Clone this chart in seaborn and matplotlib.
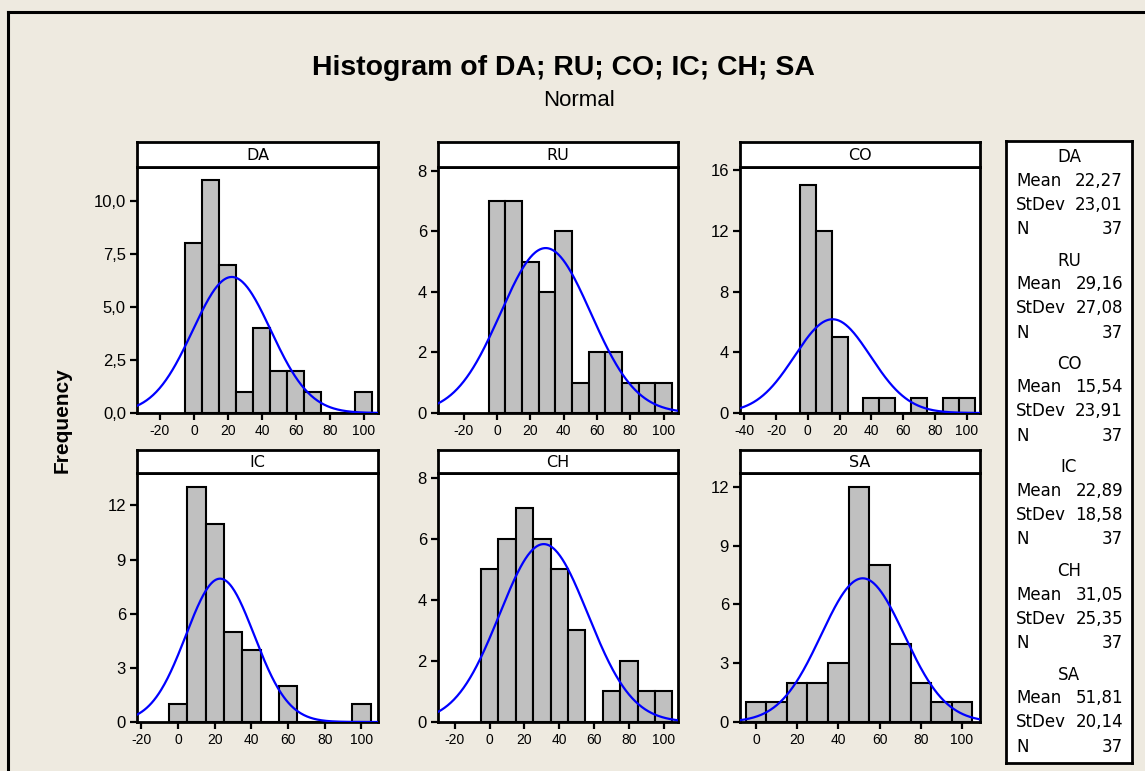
import numpy as np
import pandas as pd
import matplotlib
matplotlib.use("Agg")
import matplotlib.pyplot as plt
import seaborn as sns
from matplotlib.lines import Line2D

# ---------------- data ----------------
variables = ["DA", "RU", "CO", "IC", "CH", "SA"]
bin_centers = [0, 10, 20, 30, 40, 50, 60, 70, 80, 90, 100]
counts_DA = [8, 11, 7, 1, 4, 2, 2, 1, 0, 0, 1]
counts_RU = [7, 7, 5, 4, 6, 1, 2, 2, 1, 1, 1]
counts_CO = [15, 12, 5, 0, 1, 1, 0, 1, 0, 1, 1]
counts_IC = [1, 13, 11, 5, 4, 0, 2, 0, 0, 0, 1]
counts_CH = [5, 6, 7, 6, 5, 3, 0, 1, 2, 1, 1]
counts_SA = [1, 1, 2, 2, 3, 12, 8, 4, 2, 1, 1]
means = [22.27, 29.16, 15.54, 22.89, 31.05, 51.81]
stdevs = [23.01, 27.08, 23.91, 18.58, 25.35, 20.14]
n_obs = [37, 37, 37, 37, 37, 37]
mean_text = ["22,27", "29,16", "15,54", "22,89", "31,05", "51,81"]
stdev_text = ["23,01", "27,08", "23,91", "18,58", "25,35", "20,14"]

yticks_DA = [0, 2.5, 5.0, 7.5, 10.0]
yticklabels_DA = ["0,0", "2,5", "5,0", "7,5", "10,0"]
yticks_RU = [0, 2, 4, 6, 8]
yticks_CO = [0, 4, 8, 12, 16]
yticks_IC = [0, 3, 6, 9, 12]
yticks_CH = [0, 2, 4, 6, 8]
yticks_SA = [0, 3, 6, 9, 12]
xticks_DA = [-20, 0, 20, 40, 60, 80, 100]
xticks_RU = [-20, 0, 20, 40, 60, 80, 100]
xticks_CO = [-40, -20, 0, 20, 40, 60, 80, 100]
xticks_IC = [-20, 0, 20, 40, 60, 80, 100]
xticks_CH = [-20, 0, 20, 40, 60, 80, 100]
xticks_SA = [0, 20, 40, 60, 80, 100]

counts_all = [counts_DA, counts_RU, counts_CO, counts_IC, counts_CH, counts_SA]
yticks_all = [yticks_DA, yticks_RU, yticks_CO, yticks_IC, yticks_CH, yticks_SA]
xticks_all = [xticks_DA, xticks_RU, xticks_CO, xticks_IC, xticks_CH, xticks_SA]

# ---------------- style / layout ----------------
BG = "#EEEAE0"
W, H = 1145, 771
plt.rcParams["font.family"] = ["Liberation Sans", "DejaVu Sans"]
plt.rcParams["axes.unicode_minus"] = False

fig = plt.figure(figsize=(W / 100, H / 100), dpi=100, facecolor=BG)

def fx(x):
    return x / W

def fy(y):
    return 1 - y / H

col_x = [(137, 378), (438, 678), (740, 980)]
row_y = [(142, 167, 413), (450, 473, 722)]  # strip top, axes top, axes bottom
xlims = [(-33.5, 108.3), (-35.5, 108.6), (-42.7, 108.4),
         (-22.4, 109.0), (-29.7, 108.2), (-7.7, 108.7)]
ytops = [11.6, 8.13, 16.2, 13.8, 8.15, 12.7]
bin_edges = list(np.arange(-5, 106, 10))

for i, var in enumerate(variables):
    r, c = divmod(i, 3)
    x0, x1 = col_x[c]
    st, at, ab = row_y[r]
    ax = fig.add_axes([fx(x0), fy(ab), fx(x1 - x0), (ab - at) / H])
    ax.set_facecolor("white")
    df = pd.DataFrame({"center": bin_centers, "count": counts_all[i]})
    sns.histplot(data=df, x="center", weights="count", bins=bin_edges, ax=ax,
                 color="#C0C0C0", edgecolor="black", linewidth=1.5, alpha=1.0,
                 zorder=2)
    xs = np.linspace(xlims[i][0], xlims[i][1], 300)
    ys = n_obs[i] * 10 / (stdevs[i] * np.sqrt(2 * np.pi)) * np.exp(-0.5 * ((xs - means[i]) / stdevs[i]) ** 2)
    sns.lineplot(x=xs, y=ys, ax=ax, color="#0000FF", linewidth=1.6, zorder=3)
    ax.set_xlim(*xlims[i])
    ax.set_ylim(0, ytops[i])
    ax.set_xlabel("")
    ax.set_ylabel("")
    ax.set_xticks(xticks_all[i])
    ax.set_xticklabels([str(t) for t in xticks_all[i]], fontsize=10)
    ax.set_yticks(yticks_all[i])
    if var == "DA":
        ax.set_yticklabels(yticklabels_DA, fontsize=12)
    else:
        ax.set_yticklabels([str(t) for t in yticks_all[i]], fontsize=12)
    ax.tick_params(direction="out", length=5, width=1.6, color="black", pad=3)
    for sp in ax.spines.values():
        sp.set_linewidth(2)
        sp.set_color("black")
    # strip
    sax = fig.add_axes([fx(x0), fy(at), fx(x1 - x0), (at - st) / H])
    sax.set_facecolor("white")
    sax.set_xticks([])
    sax.set_yticks([])
    for sp in sax.spines.values():
        sp.set_linewidth(2)
        sp.set_color("black")
    sax.text(0.5, 0.45, var, ha="center", va="center", fontsize=11.5,
             family="DejaVu Sans", transform=sax.transAxes)

# titles
fig.text(fx(563), fy(68), "Histogram of DA; RU; CO; IC; CH; SA", ha="center",
         va="center", fontsize=20.4, fontweight="bold")
fig.text(fx(579), fy(100), "Normal", ha="center", va="center", fontsize=16)
fig.text(fx(62), fy(420), "Frequency", ha="center", va="center", fontsize=15,
         fontweight="bold", rotation=90)

# legend box
lax = fig.add_axes([fx(1006), fy(763), fx(1132 - 1006), (763 - 141) / H])
lax.set_facecolor("white")
lax.set_xticks([])
lax.set_yticks([])
lax.set_xlim(1006, 1132)
lax.set_ylim(763, 141)
for sp in lax.spines.values():
    sp.set_linewidth(2)
    sp.set_color("black")
LF = dict(fontsize=12, family="DejaVu Sans", va="center")
for i, var in enumerate(variables):
    y0 = 157 + i * 103.5
    lax.text(1069, y0, var, ha="center", **LF)
    lax.text(1016, y0 + 23.5, "Mean", ha="left", **LF)
    lax.text(1123, y0 + 23.5, mean_text[i], ha="right", **LF)
    lax.text(1016, y0 + 47.5, "StDev", ha="left", **LF)
    lax.text(1123, y0 + 47.5, stdev_text[i], ha="right", **LF)
    lax.text(1016, y0 + 72, "N", ha="left", **LF)
    lax.text(1123, y0 + 72, str(n_obs[i]), ha="right", **LF)

# outer frame (top and left edges visible)
fig.add_artist(Line2D([fx(8), fx(W + 5)], [fy(12), fy(12)], color="black", linewidth=2.2))
fig.add_artist(Line2D([fx(8), fx(8)], [fy(12), fy(H + 5)], color="black", linewidth=2.2))

fig.savefig("out.png", dpi=100, facecolor=BG)
